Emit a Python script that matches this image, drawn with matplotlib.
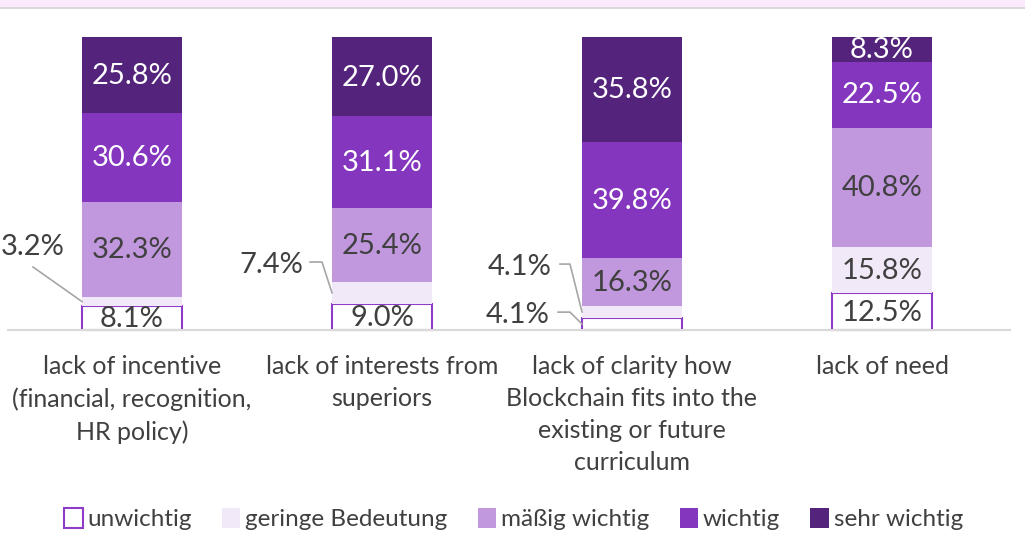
import matplotlib.pyplot as plt
from matplotlib.patches import Rectangle
import numpy as np

plt.rcParams['font.family'] = ['Lato', 'DejaVu Sans']

categories = ["lack of incentive\n(financial, recognition,\nHR policy)",
              "lack of interests from\nsuperiors",
              "lack of clarity how\nBlockchain fits into the\nexisting or future\ncurriculum",
              "lack of need"]
levels = ["unwichtig", "geringe Bedeutung", "mäßig wichtig", "wichtig", "sehr wichtig"]
unwichtig = [8.1, 9.0, 4.1, 12.5]
geringe = [3.2, 7.4, 4.1, 15.8]
maessig = [32.3, 25.4, 16.3, 40.8]
wichtig = [30.6, 31.1, 39.8, 22.5]
sehr = [25.8, 27.0, 35.8, 8.3]

series = [unwichtig, geringe, maessig, wichtig, sehr]
face = ["white", "#f2e9f8", "#c197de", "#8536be", "#54247c"]
edge = ["#8e3cc8", "#f2e9f8", "#c197de", "#8536be", "#54247c"]
txt = ["#404040", "#404040", "#404040", "white", "white"]

# labels placed outside the bar: (series, bar) -> (text dx, text y, leader points dx, leader y)
outside = {
    (1, 0): (-0.396, 28.3, [-0.396], [21.5]),
    (1, 1): (-0.444, 22.2, [-0.288, -0.24], [23.2, 23.2]),
    (1, 2): (-0.448, 21.5, [-0.288, -0.248], [22.5, 22.5]),
    (0, 2): (-0.456, 5.1, [-0.296, -0.248], [6.1, 6.1]),
}

fig = plt.figure(figsize=(10.25, 5.54), dpi=100)
# pink header strip at top
fig.patches.append(Rectangle((0, 1 - 7 / 554), 1, 7 / 554, transform=fig.transFigure,
                             facecolor="#fce9fc", edgecolor="none"))
fig.patches.append(Rectangle((0, 1 - 9 / 554), 1, 2 / 554, transform=fig.transFigure,
                             facecolor="#d9d9d9", edgecolor="none"))

ax = fig.add_axes([8 / 1025, 224 / 554, 1002 / 1025, 293 / 554])
x = np.arange(len(categories))
w = 0.4
bottom = np.zeros(len(categories))
handles = []
for k, vals in enumerate(series):
    vals = np.array(vals)
    lw = 1.5 if k == 0 else 0
    b = ax.bar(x, vals, w, bottom=bottom, color=face[k], edgecolor=edge[k],
               linewidth=lw, label=levels[k], clip_on=False, zorder=2)
    handles.append(b)
    for i, v in enumerate(vals):
        mid = bottom[i] + v / 2
        if (k, i) in outside:
            dx, ty, lx, ly = outside[(k, i)]
            ax.text(x[i] + dx, ty, f"{v:.1f}%", ha="center", va="center",
                    fontsize=21, color="#404040")
            xs = [x[i] + d for d in lx] + [x[i] - w / 2]
            ax.plot(xs, ly + [mid], color="#a6a6a6", lw=1.2, clip_on=False)
        else:
            ax.text(x[i], mid - 0.3, f"{v:.1f}%", ha="center", va="center",
                    fontsize=21, color=txt[k])
    bottom += vals

ax.set_xlim(-0.496, 3.512)
ax.set_ylim(0, 100)
for s in ["top", "left", "right"]:
    ax.spines[s].set_visible(False)
ax.spines["bottom"].set_color("#d9d9d9")
ax.spines["bottom"].set_linewidth(1.5)
ax.set_yticks([])
ax.set_xticks(x)
ax.set_xticklabels(categories, fontsize=18, color="#404040", linespacing=1.48, va="top")
ax.tick_params(axis="x", length=0, pad=18)

fig.legend(handles=handles, loc="center", bbox_to_anchor=(0.501, 35 / 554),
           ncol=5, frameon=False, fontsize=17.5, labelcolor="#404040",
           handlelength=0.75, handleheight=0.9, handletextpad=0.2, columnspacing=1.25)

fig.savefig("out.png", dpi=100)
